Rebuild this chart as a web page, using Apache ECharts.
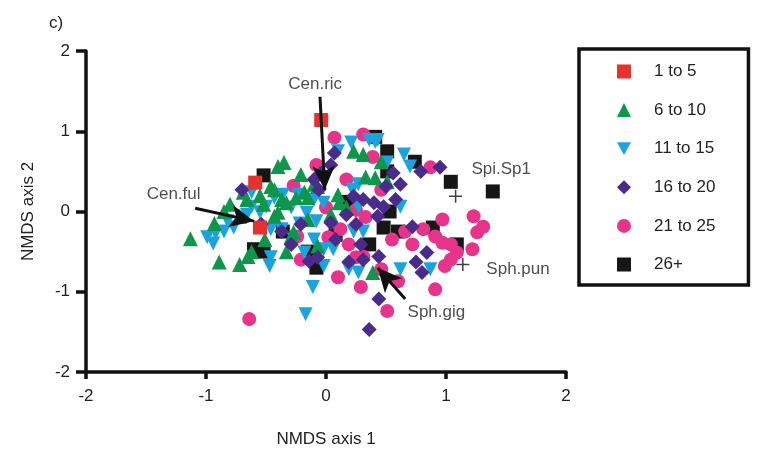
<!DOCTYPE html>
<html>
<head>
<meta charset="utf-8">
<script src="https://cdn.jsdelivr.net/npm/echarts@6/dist/echarts.min.js"></script>
<style>
  html, body { margin: 0; padding: 0; background: #fff; }
  #chart { width: 777px; height: 455px; }
</style>
</head>
<body>
<div id="chart"></div>
<script>
// NMDS site scores, grouped by age class: [axis 1, axis 2]
const age1to5 = [[-0.04, 1.14], [-0.59, 0.36], [-0.55, -0.20]];

const age6to10 = [
  [-1.13, -0.34], [-0.93, -0.15], [-0.89, -0.63], [-0.72, -0.66], [-0.65, -0.56],
  [-0.69, 0.24], [-0.66, 0.15], [-0.72, -0.06], [-0.51, -0.35], [-0.46, 0.31],
  [-0.40, 0.56], [-0.35, 0.61], [-0.37, 0.15], [-0.33, 0.11], [-0.43, -0.06],
  [-0.27, -0.26], [-0.33, -0.50], [-0.15, -0.10], [-0.07, -0.43], [-0.25, 0.17],
  [-0.43, 0.27], [-0.18, 0.24], [-0.07, 0.31], [0.10, 0.21], [0.17, 0.05],
  [-0.29, -0.31], [-0.15, 0.17], [-0.40, -0.01], [0.23, 0.75], [0.31, 0.71],
  [0.46, 0.62], [0.33, 0.43], [0.41, 0.42], [0.51, 0.37], [-0.10, 0.34],
  [0.11, 0.11], [-0.62, -0.50], [0.39, -0.76], [-0.80, 0.09], [-0.85, 0.00],
  [-0.55, 0.20], [-0.52, 0.09], [-0.21, 0.46], [0.04, -0.04]
];

const age11to15 = [
  [-0.99, -0.32], [-0.92, -0.27], [-0.85, -0.25], [-0.77, -0.20], [-0.82, -0.12],
  [-0.62, 0.24], [-0.62, 0.06], [-0.50, 0.06], [-0.43, 0.17], [-0.36, 0.21],
  [-0.29, 0.05], [-0.23, 0.21], [-0.10, 0.15], [-0.02, 0.11], [-0.16, -0.02],
  [-0.08, -0.12], [-0.46, -0.22], [-0.37, -0.22], [-0.27, -0.35], [-0.10, -0.35],
  [-0.18, -0.51], [-0.02, -0.47], [-0.02, -0.68], [-0.46, -0.57], [-0.47, -0.68],
  [-0.11, -0.94], [-0.17, -1.28], [0.06, -0.47], [0.19, -0.72], [0.27, -0.76],
  [0.62, -0.72], [0.87, -0.72], [0.23, -0.25], [0.31, -0.25], [0.10, 0.75],
  [0.21, 0.86], [0.36, 0.89], [0.43, 0.89], [0.51, 0.61], [0.65, 0.71],
  [0.70, 0.56], [0.27, 0.34], [0.22, 0.27], [0.62, 0.06], [0.27, 0.06],
  [0.41, 0.87], [-0.66, -0.04], [-0.55, -0.01], [-0.22, -0.15], [-0.94, -0.40]
];

const age16to20 = [
  [0.07, 0.73], [-0.04, 0.48], [-0.10, 0.40], [0.56, 0.48], [0.50, 0.31],
  [0.23, 0.19], [0.31, 0.15], [0.40, 0.11], [0.48, 0.06], [0.43, -0.06],
  [0.72, -0.19], [0.95, 0.55], [0.04, -0.14], [0.08, -0.35], [0.31, -0.60],
  [0.44, -0.56], [0.84, -0.51], [0.75, -0.63], [0.80, -0.76], [0.44, -1.09],
  [0.36, -1.47], [-0.14, -0.62], [-0.07, -0.57], [0.19, -0.63], [-0.37, -0.25],
  [0.04, 0.58], [-0.06, 0.27], [0.17, -0.04], [0.58, 0.15], [0.62, 0.34],
  [-0.21, -0.16], [0.25, -0.16], [0.29, -0.41], [-0.70, 0.27], [-0.29, -0.41],
  [-0.54, -0.16], [0.79, 0.50]
];

const age21to25 = [
  [-0.27, 0.32], [0.02, -0.32], [-0.24, -0.31], [0.07, 0.92], [0.31, 0.96],
  [-0.08, 0.58], [0.39, 0.68], [0.17, 0.40], [0.00, 0.05], [0.25, 0.02],
  [0.33, -0.07], [0.12, -0.22], [0.19, -0.41], [0.25, -0.57], [0.10, -0.82],
  [0.29, -0.94], [0.51, -1.24], [0.60, -0.87], [0.91, -0.97], [-0.64, -1.34],
  [0.87, 0.55], [0.97, -0.10], [1.23, -0.06], [1.31, -0.19], [1.26, -0.26],
  [0.81, -0.22], [0.91, -0.31], [0.97, -0.39], [1.04, -0.41], [1.09, -0.51],
  [1.04, -0.60], [0.99, -0.68], [1.22, -0.47], [0.31, -0.56], [0.66, -0.25],
  [0.55, -0.35], [0.46, -0.72], [0.72, -0.41], [0.46, 0.27], [-0.21, -0.60]
];

const age26plus = [
  [-0.52, 0.45], [-0.60, -0.47], [-0.52, -0.50], [-0.36, -0.25], [-0.15, -0.50],
  [-0.08, -0.70], [0.41, 0.93], [0.51, 0.75], [0.74, 0.62], [1.04, 0.37],
  [1.39, 0.25], [0.51, 0.50], [0.53, 0.00], [0.48, -0.20], [0.60, -0.25],
  [0.36, -0.41], [0.08, -0.29], [0.89, -0.20], [1.09, -0.41], [0.19, 0.12]
];

// Species vectors: [name, [tail x, tail y], [head x, head y]]
const speciesArrows = [
  ['Cen.ric', [-0.05, 1.43], [-0.01, 0.27]],
  ['Cen.ful', [-1.09, 0.04], [-0.60, -0.12]],
  ['Sph.gig', [0.66, -1.09], [0.43, -0.70]]
];
// Species label anchors (label centre): [name, x, y]
const speciesLabels = [
  ['Cen.ric', -0.09, 1.59],
  ['Cen.ful', -1.27, 0.22],
  ['Sph.gig', 0.92, -1.25],
  ['Spi.Sp1', 1.46, 0.52],
  ['Sph.pun', 1.60, -0.72]
];
// Species without vectors, shown as crosses
const speciesPoints = [[1.08, 0.19], [1.14, -0.66]];

const groupNames = ['1 to 5', '6 to 10', '11 to 15', '16 to 20', '21 to 25', '26+'];

const FONT = 'Liberation Sans, Arial, sans-serif';
const plusPath = 'path://M5.3,0 L6.7,0 L6.7,5.3 L12,5.3 L12,6.7 L6.7,6.7 L6.7,12 L5.3,12 L5.3,6.7 L0,6.7 L0,5.3 L5.3,5.3 Z';
const downTriangle = 'path://M0,0 L12,0 L6,11 Z';

function scatter(name, data, symbol, size, color, rotate) {
  return {
    name, type: 'scatter', data, symbol, symbolSize: size,
    symbolRotate: rotate || 0,
    itemStyle: { color, opacity: 1 },
    emphasis: { disabled: true }
  };
}

const chart = echarts.init(document.getElementById('chart'), null, { renderer: 'canvas' });

chart.setOption({
  animation: false,
  backgroundColor: '#fff',
  textStyle: { fontFamily: FONT },
  title: {
    text: 'c)', left: 44, top: 10,
    textStyle: { fontFamily: FONT, fontSize: 17, fontWeight: 'normal', color: '#222' }
  },
  grid: { left: 86, top: 51, width: 480, height: 321 },
  xAxis: {
    type: 'value', min: -2, max: 2, interval: 1,
    name: 'NMDS axis 1', nameLocation: 'middle', nameGap: 59,
    nameTextStyle: { fontFamily: FONT, fontSize: 17, color: '#222' },
    axisLine: { onZero: false, lineStyle: { color: '#111', width: 3.5 } },
    axisTick: { length: 7, lineStyle: { color: '#111', width: 3.5 } },
    axisLabel: { fontFamily: FONT, fontSize: 17, color: '#222', margin: 16 },
    splitLine: { show: false }
  },
  yAxis: {
    type: 'value', min: -2, max: 2, interval: 1,
    name: 'NMDS axis 2', nameLocation: 'middle', nameGap: 49,
    nameTextStyle: { fontFamily: FONT, fontSize: 17, color: '#222' },
    axisLine: { onZero: false, lineStyle: { color: '#111', width: 3.5 } },
    axisTick: { length: 10, lineStyle: { color: '#111', width: 3.5 } },
    axisLabel: { fontFamily: FONT, fontSize: 17, color: '#222', margin: 16 },
    splitLine: { show: false }
  },
  legend: {
    data: groupNames.map(n => n === '11 to 15' ? { name: n, icon: downTriangle } : n),
    orient: 'vertical',
    left: 579, top: 49,
    padding: [14, 33, 12, 38],
    itemGap: 21.6,
    itemWidth: 14, itemHeight: 14,
    borderColor: '#111', borderWidth: 3.5,
    textStyle: { fontFamily: FONT, fontSize: 17, color: '#222', padding: [0, 0, 0, 18] },
    selectedMode: false
  },
  series: [
    scatter('26+', age26plus, 'rect', 14, '#161616'),
    scatter('21 to 25', age21to25, 'circle', 14, '#E8338B'),
    scatter('11 to 15', age11to15, 'triangle', 14, '#1BA3E0', 180),
    scatter('6 to 10', age6to10, 'triangle', 15, '#0E964A'),
    scatter('16 to 20', age16to20, 'diamond', 15, '#4A2B8C'),
    scatter('1 to 5', age1to5, 'rect', 14, '#E5322D'),
    {
      name: 'species', type: 'scatter', symbol: plusPath, symbolSize: 13,
      data: speciesPoints, itemStyle: { color: '#111' }, silent: true,
      markLine: {
        silent: true, animation: false,
        symbol: ['none', 'arrow'], symbolSize: [17, 24],
        lineStyle: { color: '#111', width: 3, type: 'solid' },
        label: { show: false },
        data: speciesArrows.map(a => [{ coord: a[1] }, { coord: a[2] }])
      }
    },
    {
      name: 'species labels', type: 'scatter', symbolSize: 0, silent: true,
      data: speciesLabels.map(s => ({ name: s[0], value: [s[1], s[2]] })),
      label: {
        show: true, position: 'inside', formatter: p => p.name,
        fontFamily: FONT, fontSize: 17, color: '#222'
      }
    }
  ]
});
</script>
</body>
</html>
